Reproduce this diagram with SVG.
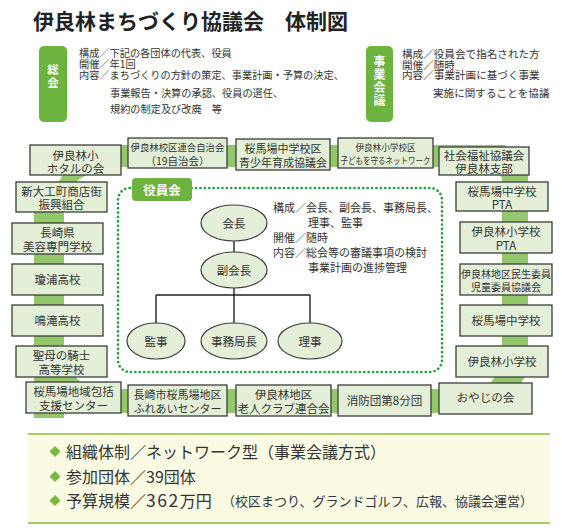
<svg xmlns="http://www.w3.org/2000/svg" width="562" height="528" viewBox="0 0 562 528">
<style>
text{font-family:"Noto Sans CJK JP","Noto Sans",sans-serif;fill:#333}
.title{font-size:21px;font-weight:bold;fill:#222}
.hl{font-size:10.2px}
.hr{font-size:10.6px}
.tab{fill:#6cb33f}
.tabt{font-size:12.5px;font-weight:bold;fill:#fff;text-anchor:middle}
.box{fill:#e3efd7;stroke:#3c3c3c;stroke-width:1.3}
.bt{font-size:11.5px;text-anchor:middle}
.ell{fill:#e3efd7;stroke:#3c3c3c;stroke-width:1.2}
.et{font-size:11.5px;text-anchor:middle}
.ring{fill:#92c76b;fill-rule:evenodd}
.tree{fill:none;stroke:#222;stroke-width:1.4}
.ct{font-size:11px}
.bl{font-size:16px}
.dia{fill:#78b843}
</style>

<text class="title" x="33" y="29">伊良林まちづくり協議会　体制図</text>

<g id="soukai">
<rect class="tab" x="39" y="46" width="28" height="76" rx="5"/>
<text class="tabt" x="53" y="74" style="font-size:11.5px">総</text>
<text class="tabt" x="53" y="86.5" style="font-size:11.5px">会</text>
<text class="hl" x="79" y="57">構成／下記の各団体の代表、役員</text>
<text class="hl" x="79" y="68">開催／年1回</text>
<text class="hl" x="79" y="79">内容／まちづくりの方針の策定、事業計画・予算の決定、</text>
<text class="hl" x="110" y="97">事業報告・決算の承認、役員の選任、</text>
<text class="hl" x="110" y="113">規約の制定及び改廃　等</text>
</g>

<g id="jigyoukaigi">
<rect class="tab" x="366" y="46" width="27" height="76" rx="5"/>
<text class="tabt" x="379.5" y="65.5" style="font-size:12px">事</text>
<text class="tabt" x="379.5" y="78.5" style="font-size:12px">業</text>
<text class="tabt" x="379.5" y="91.5" style="font-size:12px">会</text>
<text class="tabt" x="379.5" y="105" style="font-size:12px">議</text>
<text class="hr" x="402" y="58">構成／役員会で指名された方</text>
<text class="hr" x="402" y="68.5">開催／随時</text>
<text class="hr" x="402" y="79">内容／事業計画に基づく事業</text>
<text class="hr" x="433" y="97">実施に関することを協議</text>
</g>

<g id="connectors">
<path class="ring" d="M80,145 L505,145 L528,170 L528,372 L502,413 L64,413 L64,418 L34,418 L34,205 L60,180 Z M100,167 L493,167 L502,178 L502,365 L487,389 L88,389 L64,366 L64,205 L78,180 Z"/>
<path class="tree" d="M234,241 V252 M234,288 V295 M156,295 H310 M156,295 V323 M234,295 V323 M310,295 V323"/>
</g>

<g id="yakuinkai">
<rect x="118" y="188" width="324" height="184" rx="12" fill="none" stroke="#1f9e3e" stroke-width="2.6" stroke-linecap="round" stroke-dasharray="0.1 4.3"/>
<rect class="tab" x="132" y="178" width="60" height="23" rx="4"/>
<text class="tabt" x="162" y="194.5">役員会</text>
<text class="ct" x="273" y="212">構成／会長、副会長、事務局長、</text>
<text class="ct" x="308" y="227">理事、監事</text>
<text class="ct" x="273" y="242">開催／随時</text>
<text class="ct" x="273" y="257">内容／総会等の審議事項の検討</text>
<text class="ct" x="308" y="272">事業計画の進捗管理</text>
</g>

<g id="kaicho"><ellipse class="ell" cx="234" cy="223" rx="33" ry="18"/><text class="et" x="234" y="227.5">会長</text></g>
<g id="fukukaicho"><ellipse class="ell" cx="234" cy="270" rx="33" ry="18"/><text class="et" x="234" y="274.5">副会長</text></g>
<g id="kanji"><ellipse class="ell" cx="156" cy="341" rx="29" ry="18"/><text class="et" x="156" y="345.5">監事</text></g>
<g id="jimukyokucho"><ellipse class="ell" cx="234" cy="341" rx="33" ry="18"/><text class="et" x="234" y="345.5">事務局長</text></g>
<g id="riji"><ellipse class="ell" cx="310" cy="341" rx="32" ry="18"/><text class="et" x="310" y="345.5">理事</text></g>

<g id="hotaru"><rect class="box" x="30" y="145" width="91" height="30"/><text class="bt" x="75.5" y="159.5">伊良林小</text><text class="bt" x="75.5" y="172.5">ホタルの会</text></g>
<g id="rengo"><rect class="box" x="128" y="138" width="99" height="30"/><text class="bt" x="177.5" y="151" style="font-size:9.4px">伊良林校区連合自治会</text><text class="bt" x="177.5" y="164.5" style="font-size:10.5px">（19自治会）</text></g>
<g id="seishonen"><rect class="box" x="236" y="139" width="94" height="31"/><text class="bt" x="283" y="153" style="font-size:11px">桜馬場中学校区</text><text class="bt" x="283" y="166.5" style="font-size:11px">青少年育成協議会</text></g>
<g id="kodomo"><rect class="box" x="338" y="138" width="95" height="30"/><text class="bt" x="385.5" y="151" style="font-size:8.6px">伊良林小学校区</text><text class="bt" x="385.5" y="164" style="font-size:9px" textLength="90" lengthAdjust="spacingAndGlyphs">子どもを守るネットワーク</text></g>
<g id="shakai"><rect class="box" x="439" y="147" width="90" height="28"/><text class="bt" x="484" y="160">社会福祉協議会</text><text class="bt" x="484" y="172.5">伊良林支部</text></g>

<g id="sakura-pta"><rect class="box" x="456" y="182" width="92" height="29"/><text class="bt" x="502" y="195.5">桜馬場中学校</text><text class="bt" x="502" y="208.5">PTA</text></g>
<g id="iraba-pta"><rect class="box" x="460" y="222" width="92" height="31"/><text class="bt" x="506" y="236">伊良林小学校</text><text class="bt" x="506" y="249.5">PTA</text></g>
<g id="minsei"><rect class="box" x="460" y="264" width="92" height="31"/><text class="bt" x="506" y="277.5" style="font-size:10px">伊良林地区民生委員</text><text class="bt" x="506" y="291" style="font-size:10px">児童委員協議会</text></g>
<g id="sakura-jh"><rect class="box" x="460" y="305" width="92" height="31"/><text class="bt" x="506" y="325">桜馬場中学校</text></g>
<g id="iraba-es"><rect class="box" x="456" y="346" width="92" height="31"/><text class="bt" x="502" y="366">伊良林小学校</text></g>
<g id="oyaji"><rect class="box" x="439" y="383" width="93" height="31"/><text class="bt" x="485.5" y="401.5">おやじの会</text></g>

<g id="shobo"><rect class="box" x="338" y="385" width="93" height="31"/><text class="bt" x="384.5" y="405">消防団第8分団</text></g>
<g id="rojin"><rect class="box" x="236" y="385" width="95" height="31"/><text class="bt" x="283.5" y="399">伊良林地区</text><text class="bt" x="283.5" y="412.5">老人クラブ連合会</text></g>
<g id="fureai"><rect class="box" x="128" y="385" width="99" height="31"/><text class="bt" x="177.5" y="399" style="font-size:11px">長崎市桜馬場地区</text><text class="bt" x="177.5" y="412.5" style="font-size:11px">ふれあいセンター</text></g>
<g id="hokatsu"><rect class="box" x="26" y="382" width="95" height="31"/><text class="bt" x="73.5" y="396">桜馬場地域包括</text><text class="bt" x="73.5" y="409.5">支援センター</text></g>

<g id="seibo"><rect class="box" x="16" y="346" width="91" height="31"/><text class="bt" x="61.5" y="360">聖母の騎士</text><text class="bt" x="61.5" y="373.5">高等学校</text></g>
<g id="narutaki"><rect class="box" x="12" y="305" width="91" height="31"/><text class="bt" x="57.5" y="325">鳴滝高校</text></g>
<g id="keiho"><rect class="box" x="12" y="264" width="91" height="31"/><text class="bt" x="57.5" y="284">瓊浦高校</text></g>
<g id="biyo"><rect class="box" x="12" y="223" width="91" height="31"/><text class="bt" x="57.5" y="237">長崎県</text><text class="bt" x="57.5" y="250.5">美容専門学校</text></g>
<g id="shindaiku"><rect class="box" x="16" y="182" width="91" height="30"/><text class="bt" x="61.5" y="196">新大工町商店街</text><text class="bt" x="61.5" y="209">振興組合</text></g>

<g id="summary">
<rect x="28" y="434" width="522" height="89" fill="#fbfbe3"/>
<line x1="28" y1="434" x2="550" y2="434" stroke="#a6cf60" stroke-width="2"/>
<line x1="28" y1="523" x2="550" y2="523" stroke="#a6cf60" stroke-width="2"/>
<path class="dia" d="M55,446 L60.5,451.5 L55,457 L49.5,451.5 Z"/>
<path class="dia" d="M55,471 L60.5,476.5 L55,482 L49.5,476.5 Z"/>
<path class="dia" d="M55,495 L60.5,500.5 L55,506 L49.5,500.5 Z"/>
<text class="bl" x="66" y="457.5">組織体制／ネットワーク型（事業会議方式）</text>
<text class="bl" x="66" y="482.5">参加団体／39団体</text>
<text class="bl" x="66" y="506.5">予算規模／<tspan style="font-size:17.5px;letter-spacing:1.5px">362</tspan>万円</text>
<text x="222" y="505.5" style="font-size:13px">（校区まつり、グランドゴルフ、広報、協議会運営）</text>
</g>
</svg>
